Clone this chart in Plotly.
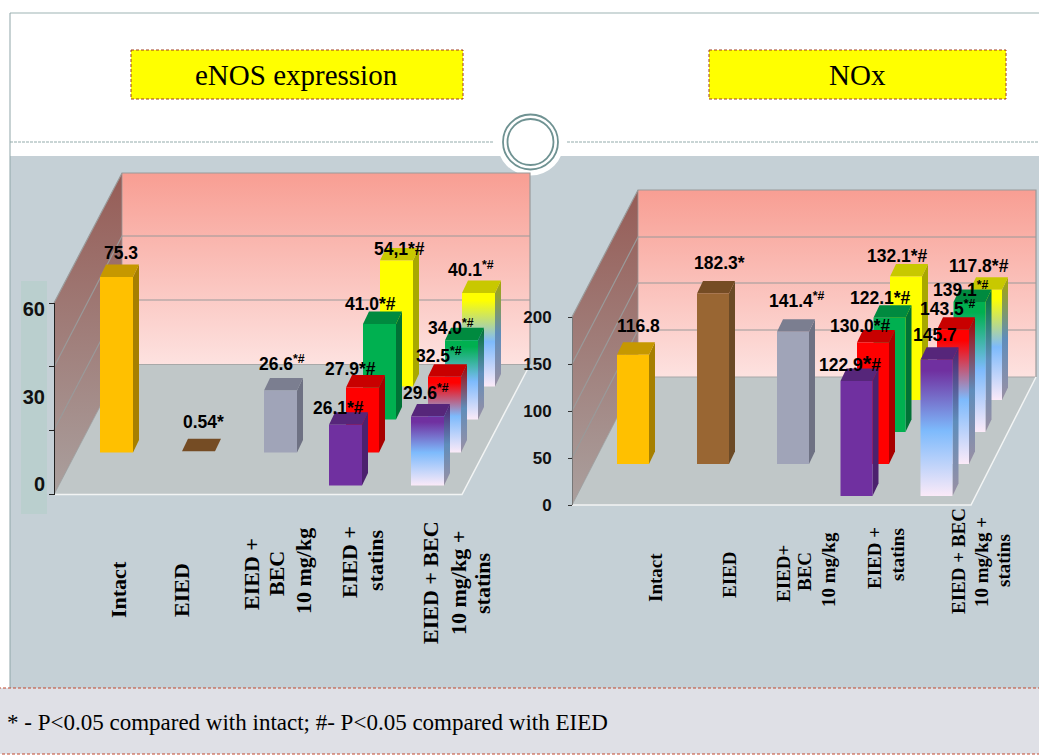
import plotly.graph_objects as go

# ---------- data ----------
enos_title = "eNOS expression"
nox_title = "NOx"
enos_categories = ["Intact", "EIED", "EIED +<br>BEC<br>10 mg/kg", "EIED +<br>statins", "EIED + BEC<br>10 mg/kg +<br>statins"]
nox_categories = ["Intact", "EIED", "EIED+<br>BEC<br>10 mg/kg", "EIED +<br>statins", "EIED + BEC<br>10 mg/kg +<br>statins"]

enos_single = [75.3, 0.54, 26.6]
enos_statins = [26.1, 27.9, 41.0, 54.1]
enos_combo = [29.6, 32.5, 34.0, 40.1]
nox_single = [116.8, 182.3, 141.4]
nox_statins = [122.9, 130.0, 122.1, 132.1]
nox_combo = [145.7, 143.5, 139.1, 117.8]

S = "<sup>*#</sup>"
enos_labels = ["75.3", "0.54*", "26.6" + S, "26.1*#", "27.9*#", "41.0*#", "54,1*#",
               "29.6" + S, "32.5" + S, "34.0" + S, "40.1" + S]
nox_labels = ["116.8", "182.3*", "141.4" + S, '122.9<span style="font-size:22px">*</span>#', "130.0*#", "122.1*#", "132.1*#",
              "145.7", "143.5" + S, "139.1" + S, "117.8*#"]

enos_wall_ticks = [0, 20, 40, 60]
enos_tick_labels = [0, 30, 60]
nox_ticks = [0, 50, 100, 150, 200]

# ---------- styles ----------
W, H = 1039, 756
SOLID = {
    "gold": ("#FFC000", "#C69800", "#A67F00"),
    "brown": ("#996633", "#754C24", "#6B4A26"),
    "slate": ("#A0A4B8", "#7B7E90", "#6E7183"),
    "purple": ("#7030A0", "#56267A", "#4C216E"),
    "red": ("#FF0000", "#C80000", "#A80000"),
    "green": ("#00B050", "#008A3F", "#007236"),
    "yellow": ("#FFFF00", "#C8C800", "#A8A800"),
}
ROW_COLORS = ["purple", "red", "green", "yellow"]
SINGLE_COLORS = ["gold", "brown", "slate"]

PANELS = [
    dict(xa="x2", ya="y2", single=enos_single, statins=enos_statins, combo=enos_combo, labels=enos_labels,
         x0=100, step=82, row_dx=17, w=33, y0=485.5, row_dy=33, s=2.33,
         dx=[4.5, 4.5, 1.5, -7.5, -12.5, -9.5, 2.5, -1.5, -5.5, -10.5, -7.5],
         dy=[24, 29, 27.5, 16.7, 18.5, 20, 11.5, 24.5, 21.8, 13.3, 24]),
    dict(xa="x3", ya="y3", single=nox_single, statins=nox_statins, combo=nox_combo, labels=nox_labels,
         x0=617, step=80, row_dx=16.5, w=32, y0=496, row_dy=32, s=0.935,
         dx=[5, 6, 4, -7, -13, -9, -9, -2, -5, -9, -7],
         dy=[29, 30.5, 32, 18, 16, 20, 20.5, 25, 22, 13, 24]),
]
SIDE_DX, SIDE_DY = 6, 12.5
LABEL_FONT = dict(family="Liberation Sans", size=17.5, color="#000000", weight=700)
SERIF = "Liberation Serif"

fig = go.Figure()


def poly(xs, ys, xa="x", ya="y", color=None, grad=None):
    kw = dict(x=xs + xs[:1], y=ys + ys[:1], xaxis=xa, yaxis=ya, mode="lines", fill="toself",
              line=dict(width=0, color="rgba(0,0,0,0)"), hoverinfo="skip", showlegend=False)
    if grad:
        kw["fillgradient"] = grad
    else:
        kw["fillcolor"] = color
    fig.add_trace(go.Scatter(**kw))


def vgrad(top, bottom, stops):
    return dict(type="vertical", start=top, stop=bottom, colorscale=stops)


def line(xs, ys, color, width=1.2):
    fig.add_trace(go.Scatter(x=xs, y=ys, xaxis="x", yaxis="y", mode="lines",
                             line=dict(color=color, width=width), hoverinfo="skip", showlegend=False))


# ---------- chart boxes (walls and floors) ----------
WALLS = [
    dict(fl=54, bl=122, br=530, fr=462, top=173, back=364.5, ftop=303, fbot=494.5, grid=[236, 300], fgrid=[367, 430]),
    dict(fl=572, bl=638, br=1036, fr=971, top=190, back=377, ftop=317, fbot=505, grid=[237, 283, 330], fgrid=[364, 411, 458]),
]
for w in WALLS:
    poly([w["bl"], w["br"], w["br"], w["bl"]], [w["top"], w["top"], w["back"], w["back"]],
         grad=vgrad(w["top"], w["back"], [[0, "#F89E93"], [1, "#FDE2E0"]]))
    poly([w["fl"], w["bl"], w["bl"], w["fl"]], [w["ftop"], w["top"], w["back"], w["fbot"]],
         grad=vgrad(w["top"], w["fbot"], [[0, "#965C56"], [1, "#AAA09E"]]))
    poly([w["fl"], w["bl"], w["br"], w["fr"]], [w["fbot"], w["back"], w["back"], w["fbot"]], color="#C0C7C8")
    for g, f in zip(w["grid"], w["fgrid"]):
        line([w["fl"], w["bl"], w["br"]], [f, g, g], "#9A9A9A")
    line([w["fl"], w["bl"], w["br"], w["br"]], [w["ftop"], w["top"], w["top"], w["back"]], "#9A9A9A")
    line([w["fl"], w["bl"], w["bl"]], [w["fbot"], w["back"], w["top"]], "#9A9A9A", 0.8)
    line([w["bl"], w["br"]], [w["back"], w["back"]], "#A8A8A8", 1)
    line([w["fl"], w["fr"], w["br"]], [w["fbot"], w["fbot"], w["back"]], "#F2F4F4", 1.5)


# ---------- bars ----------
def draw_bar(p, cat, row, value, solid=None, grad_top=None):
    xu = 1.0 / p["step"]
    yu = 1.0 / p["s"]
    l = cat + (row - 1) * p["row_dx"] * xu
    r = l + p["w"] * xu
    b = row * p["row_dy"] * yu
    t = b + value
    sx, sy = SIDE_DX * xu, SIDE_DY * yu
    xa, ya = p["xa"], p["ya"]
    if solid:
        front, top, side = SOLID[solid]
        poly([r, r + sx, r + sx, r], [b, b + sy, t + sy, t], xa, ya, side)
        poly([l, r, r + sx, l + sx], [t, t, t + sy, t + sy], xa, ya, top)
        if value > 2:
            poly([l, r, r, l], [b, b, t, t], xa, ya, front)
    else:
        front, top, side = SOLID[grad_top]
        poly([r, r + sx, r + sx, r], [b, b + sy, t + sy, t], xa, ya,
             grad=vgrad(t + sy, b, [[0, side], [0.5, "#5F8DBB"], [1, "#9A90A4"]]))
        poly([l, r, r + sx, l + sx], [t, t, t + sy, t + sy], xa, ya, top)
        poly([l, r, r, l], [b, b, t, t], xa, ya,
             grad=vgrad(t, b, [[0, front], [0.08, front], [0.52, "#7DBAFC"], [1, "#FBEAF8"]]))
    return (l + r) / 2, t


for p in PANELS:
    tips = {}
    # drawn back to front so that nearer bars cover farther ones
    for row in [3, 2, 1, 0]:
        if row == 1:
            for i, v in enumerate(p["single"]):
                tips[i] = draw_bar(p, i, 1, v, solid=SINGLE_COLORS[i])
        tips[3 + row] = draw_bar(p, 3, row, p["statins"][row], solid=ROW_COLORS[row])
        tips[7 + row] = draw_bar(p, 4, row, p["combo"][row], grad_top=ROW_COLORS[row])
    for i in range(11):
        x, y = tips[i]
        fig.add_annotation(x=x, y=y, xref=p["xa"], yref=p["ya"], text=p["labels"][i], showarrow=False,
                           xshift=p["dx"][i], yshift=p["dy"][i], font=LABEL_FONT,
                           xanchor="center", yanchor="middle")

# invisible anchors so that the tick-only axes are drawn
for xa, ya, val in [("x4", "y4", 0), ("x4", "y5", 0), ("x4", "y6", 0)]:
    fig.add_trace(go.Scatter(x=[0], y=[val], xaxis=xa, yaxis=ya, mode="markers",
                             marker=dict(opacity=0), hoverinfo="skip", showlegend=False))

# ---------- category labels: one rotated text per line, as the slide spaces them ----------
CAT_LINE_X = [
    [[118], [181], [251, 276, 303], [349, 375], [430, 458, 482]],
    [[655], [729], [783, 804, 828], [874, 897], [958, 981, 1003]],
]
CAT_LINE_Y = [
    [[590], [590], [574, 574, 571], [562, 560], [583, 583, 583]],
    [[578], [575], [574, 572, 570], [558, 555], [561, 562, 561]],
]
CAT_SIZE = [22, 19]
for names, xs, ys, size in zip([enos_categories, nox_categories], CAT_LINE_X, CAT_LINE_Y, CAT_SIZE):
    for name, lx, ly in zip(names, xs, ys):
        for part, x, y in zip(name.split("<br>"), lx, ly):
            fig.add_annotation(x=x, y=y, xref="x", yref="y", text=part, textangle=-90, showarrow=False,
                               font=dict(family=SERIF, size=size, color="#000000", weight=700))

# ---------- titles and footnote ----------
for text, x in [(enos_title, 296), (nox_title, 857)]:
    fig.add_annotation(x=x, y=75, xref="x", yref="y", text=text, showarrow=False,
                       font=dict(family=SERIF, size=29, color="#000000"))
fig.add_annotation(x=5, y=722, xref="x", yref="y", xanchor="left", showarrow=False,
                   text="* - P<0.05 compared with intact; #- P<0.05 compared with EIED",
                   font=dict(family=SERIF, size=23, color="#000000"))

# ---------- slide furniture ----------
DASH_TITLE = dict(color="#A03C20", width=1, dash="3px,2px")
DASH_FOOT = dict(color="#C0492E", width=1, dash="3px,2px")
DASH_RULE = dict(color="#93ABAB", width=1, dash="3px,1px")
shapes = [
    dict(type="rect", x0=10, x1=W, y0=156, y1=688, fillcolor="#C5D0D6", line_width=0),
    dict(type="line", x0=10, x1=W, y0=13, y1=13, line=dict(color="#9DB3B3", width=1)),
    dict(type="line", x0=10, x1=10, y0=13, y1=688, line=dict(color="#8FA5A8", width=1)),
    dict(type="line", x0=10, x1=494, y0=142, y1=142, line=DASH_RULE),
    dict(type="line", x0=567, x1=W, y0=142, y1=142, line=DASH_RULE),
    dict(type="circle", x0=497, x1=564, y0=108.5, y1=175.5, fillcolor="#FFFFFF", line_width=0),
    dict(type="circle", x0=503, x1=558, y0=114.5, y1=169.5, line=dict(color="#6F9292", width=1.8)),
    dict(type="circle", x0=507.5, x1=553.5, y0=119, y1=165, line=dict(color="#6F9292", width=1.8)),
    dict(type="rect", x0=21, x1=47, y0=281, y1=514, fillcolor="#BACFCE", line_width=0),
    dict(type="rect", x0=131, x1=463, y0=50, y1=99, fillcolor="#FFFF00", line=DASH_TITLE),
    dict(type="rect", x0=709, x1=1006, y0=50, y1=99, fillcolor="#FFFF00", line=DASH_TITLE),
    dict(type="rect", x0=-2, x1=W + 2, y0=688, y1=754, fillcolor="#DFE0E6", line=DASH_FOOT),
]
for s in shapes:
    s.update(xref="x", yref="y", layer="below")

hidden = dict(visible=False, fixedrange=True)
layout_axes = dict(
    xaxis=dict(range=[0, W], domain=[0, 1], **hidden),
    yaxis=dict(range=[H, 0], domain=[0, 1], **hidden),
)
for idx, p in zip([2, 3], PANELS):
    layout_axes["xaxis%d" % idx] = dict(range=[(0 - p["x0"]) / p["step"], (W - p["x0"]) / p["step"]],
                                        overlaying="x", **hidden)
    layout_axes["yaxis%d" % idx] = dict(range=[(p["y0"] - H) / p["s"], p["y0"] / p["s"]],
                                        overlaying="y", **hidden)
layout_axes["xaxis4"] = dict(range=[0, W], domain=[0, 1], **hidden)
layout_axes["yaxis4"] = dict(domain=[1 - 494.5 / H, 1 - 303 / H], range=[0, 60], anchor="free", position=54 / W,
                             tickvals=enos_wall_ticks, showticklabels=False, ticks="outside", ticklen=5,
                             tickcolor="#222222", showline=True, linecolor="#222222", linewidth=1,
                             showgrid=False, zeroline=False, fixedrange=True)
layout_axes["yaxis5"] = dict(domain=[1 - 484 / H, 1 - 309 / H], range=[0, 60], anchor="free", position=45 / W,
                             tickvals=enos_tick_labels, ticks="", showline=False, showgrid=False, zeroline=False,
                             tickfont=dict(family="Liberation Sans", size=20, color="#111111", weight=700),
                             fixedrange=True)
layout_axes["yaxis6"] = dict(domain=[1 - 505 / H, 1 - 317 / H], range=[0, 200], anchor="free", position=572 / W,
                             tickvals=nox_ticks, ticks="outside", ticklen=4, tickcolor="#333333",
                             showline=True, linecolor="#777777", linewidth=1, showgrid=False, zeroline=False,
                             ticklabelstandoff=13,
                             tickfont=dict(family="Liberation Sans", size=17, color="#111111", weight=700),
                             fixedrange=True)

fig.update_layout(width=W, height=H, margin=dict(l=0, r=0, t=0, b=0, pad=0, autoexpand=False), paper_bgcolor="#FFFFFF",
                  plot_bgcolor="rgba(0,0,0,0)", showlegend=False, shapes=shapes, **layout_axes)

fig.write_html("out.html", config=dict(displayModeBar=False),
               post_script="document.body.style.margin='0';document.documentElement.style.overflow='hidden';")
